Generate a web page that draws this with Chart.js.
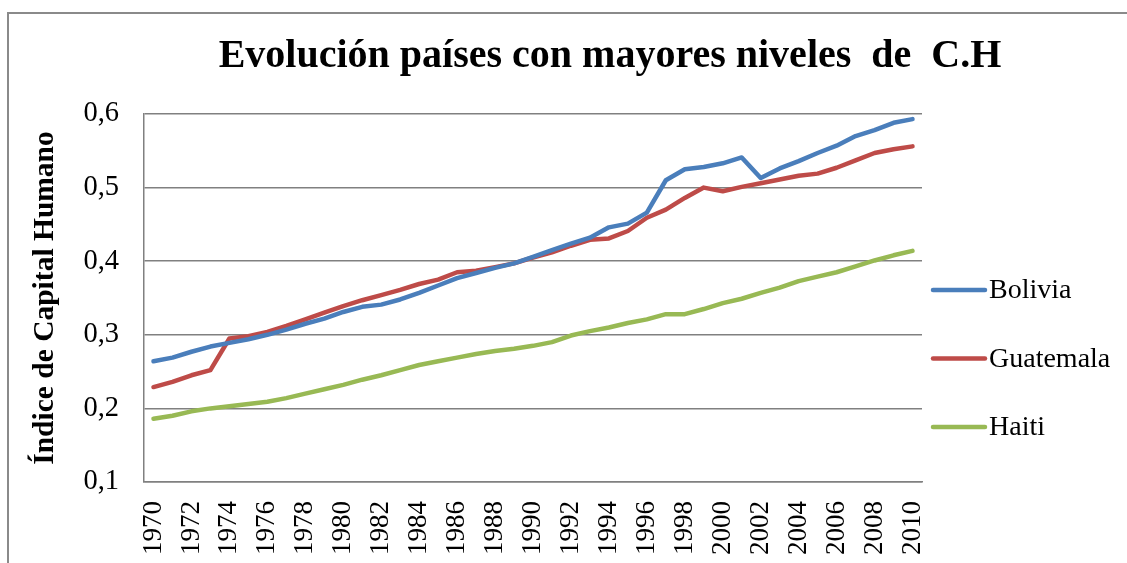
<!DOCTYPE html>
<html><head><meta charset="utf-8">
<script src="https://cdn.jsdelivr.net/npm/chart.js@4/dist/chart.umd.min.js"></script>
<style>html,body{margin:0;padding:0;background:#fff;overflow:hidden}canvas{display:block}</style>
</head><body>
<canvas id="c" width="1127" height="563"></canvas>
<script>
const years = ['1970','1971','1972','1973','1974','1975','1976','1977','1978','1979',
  '1980','1981','1982','1983','1984','1985','1986','1987','1988','1989',
  '1990','1991','1992','1993','1994','1995','1996','1997','1998','1999',
  '2000','2001','2002','2003','2004','2005','2006','2007','2008','2009','2010'];
const bolivia = [0.264,0.269,0.277,0.284,0.289,0.294,0.300,0.307,0.315,0.322,
  0.331,0.338,0.341,0.348,0.357,0.367,0.377,0.384,0.391,0.397,
  0.406,0.415,0.424,0.432,0.446,0.451,0.466,0.510,0.525,0.528,
  0.533,0.541,0.513,0.526,0.536,0.547,0.557,0.570,0.578,0.588,0.593];
const guatemala = [0.229,0.236,0.245,0.252,0.295,0.298,0.304,0.312,0.321,0.330,
  0.339,0.347,0.354,0.361,0.369,0.375,0.385,0.387,0.392,0.397,
  0.405,0.412,0.421,0.429,0.431,0.441,0.459,0.470,0.486,0.500,
  0.495,0.501,0.506,0.511,0.516,0.519,0.527,0.537,0.547,0.552,0.556];
const haiti = [0.186,0.190,0.196,0.200,0.203,0.206,0.209,0.214,0.220,0.226,
  0.232,0.239,0.245,0.252,0.259,0.264,0.269,0.274,0.278,0.281,
  0.285,0.290,0.299,0.305,0.310,0.316,0.321,0.328,0.328,0.335,
  0.343,0.349,0.357,0.364,0.373,0.379,0.385,0.393,0.401,0.408,0.414];
const yTicks = [0.1,0.2,0.3,0.4,0.5,0.6];
const seriesNames = ['Bolivia','Guatemala','Haiti'];
const seriesColors = ['#4A7EBB','#BE4B48','#98B954'];
const titleText = 'Evolución países con mayores niveles  de  C.H';
const yTitleText = 'Índice de Capital Humano';

const frame = {
  id: 'frame',
  beforeDraw(chart) {
    const ctx = chart.ctx;
    ctx.save();
    ctx.fillStyle = '#fff';
    ctx.fillRect(0, 0, chart.width, chart.height);
    ctx.strokeStyle = '#8a8a8a';
    ctx.lineWidth = 2;
    ctx.beginPath();
    ctx.moveTo(8, chart.height);
    ctx.lineTo(8, 13);
    ctx.lineTo(chart.width, 13);
    ctx.stroke();
    ctx.restore();
  }
};
const titleShift = {
  id: 'titleShift',
  afterLayout(chart) {
    const t = chart.titleBlock;
    if (t) { t.right = 2 * 610 - t.left; t.width = t.right - t.left; }
  }
};
const lineLegend = {
  id: 'lineLegend',
  afterDraw(chart) {
    const ctx = chart.ctx, a = chart.chartArea;
    ctx.save();
    chart.data.datasets.forEach((ds, i) => {
      const y = a.top + 176 + i * 68.5;
      ctx.strokeStyle = ds.borderColor;
      ctx.lineWidth = 4.5;
      ctx.lineCap = 'round';
      ctx.beginPath();
      ctx.moveTo(a.right + 11, y);
      ctx.lineTo(a.right + 63, y);
      ctx.stroke();
      ctx.fillStyle = '#000';
      ctx.font = '28px "Liberation Serif"';
      ctx.textBaseline = 'middle';
      ctx.textAlign = 'left';
      ctx.fillText(ds.label, a.right + 67, y + 1);
    });
    ctx.restore();
  }
};

const seriesData = [bolivia, guatemala, haiti];
new Chart(document.getElementById('c'), {
  type: 'line',
  data: {
    labels: years,
    datasets: seriesNames.map((n, i) => ({
      label: n, data: seriesData[i], borderColor: seriesColors[i], backgroundColor: seriesColors[i],
      borderWidth: 4.5, pointRadius: 0, tension: 0, borderCapStyle: 'round', borderJoinStyle: 'round', fill: false
    }))
  },
  options: {
    responsive: false, animation: false, devicePixelRatio: 1,
    layout: { padding: { left: 8, right: 205, top: 0, bottom: 0 } },
    plugins: {
      legend: { display: false }, tooltip: { enabled: false },
      title: { display: true, text: titleText, color: '#000',
        font: { family: 'Liberation Serif', size: 40, weight: 'bold', lineHeight: 1.2 },
        padding: { top: 33, bottom: 33 } }
    },
    scales: {
      x: {
        offset: true,
        grid: { display: true, color: 'rgba(0,0,0,0)', drawTicks: false, tickLength: 0 },
        border: { display: true, color: '#808080', width: 1.5 },
        ticks: { autoSkip: false, maxRotation: 90, minRotation: 90, padding: 19, color: '#000',
          font: { family: 'Liberation Serif', size: 27 },
          callback: (v, i) => (i % 2 === 0 ? years[i] : '') },
        afterFit(s) { s.height = 81; }
      },
      y: {
        min: 0.1, max: 0.6,
        grid: { color: '#808080', lineWidth: 1.5, drawTicks: false, tickLength: 0 },
        border: { display: true, color: '#808080', width: 1.5 },
        afterBuildTicks(s) { s.ticks = yTicks.map(v => ({ value: v })); },
        ticks: { padding: 25, color: '#000', font: { family: 'Liberation Serif', size: 28.5 },
          callback: v => Number(v).toFixed(1).replace('.', ',') },
        title: { display: true, text: yTitleText, color: '#000',
          font: { family: 'Liberation Serif', size: 29.5, weight: 'bold', lineHeight: 1.2 },
          padding: { top: 20, bottom: 0 } },
        afterFit(s) { s.width = 136; }
      }
    }
  },
  plugins: [frame, titleShift, lineLegend]
});
</script>
</body></html>
